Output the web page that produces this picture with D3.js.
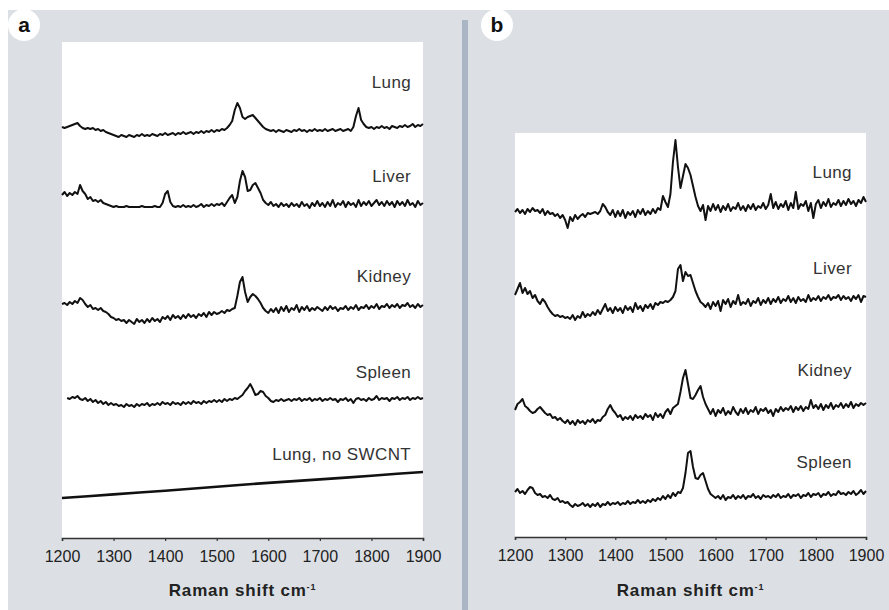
<!DOCTYPE html>
<html lang="en">
<head>
<meta charset="UTF-8">
<title>Raman spectra of SWCNT in tissues</title>
<script src="https://d3js.org/d3.v7.min.js"></script>
<style>
  body { margin: 0; background: #fff; }
  text { font-family: "Liberation Sans", Arial, Helvetica, sans-serif; }
</style>
</head>
<body>
<svg id="chart" width="889" height="610"></svg>
<script>
// x grid of the spectra (cm-1), one reading every 5 cm-1
const waveStart = 1200, waveStep = 5;
const tickValues = [1200, 1300, 1400, 1500, 1600, 1700, 1800, 1900];

// panel a : intensity above each trace's own baseline (a.u.)
const aLung = [
  3, 2, 3, 4, 5, 6, 7, 4, 2, 1,
  2, 1, 2, 0, 1, -1, 0, -2, -3, -4,
  -5, -6, -7, -5, -6, -7, -5, -6, -7, -5,
  -6, -4, -6, -5, -6, -4, -5, -6, -4, -5,
  -3, -5, -4, -3, -5, -3, -4, -2, -4, -3,
  -2, -4, -2, -3, -1, -3, -1, -2, 0, -2,
  0, -1, 1, 0, 2, 5, 9, 20, 27, 22,
  13, 11, 13, 14, 15, 12, 9, 6, 3, 1,
  0, -1, 0, -2, 0, -1, -2, 0, -1, -2,
  0, -1, 1, -1, 0, -2, 0, -1, 1, -1,
  0, -1, 1, -1, 0, 1, -1, 0, 1, -1,
  0, 1, -1, 3, 14, 22, 10, 6, 3, 2,
  3, 1, 3, 2, 4, 2, 3, 1, 4, 3,
  2, 4, 3, 5, 3, 4, 6, 3, 5, 4,
  6
];
const aLiver = [
  12, 15, 11, 14, 12, 15, 13, 22, 16, 13,
  8, 10, 6, 7, 5, 7, 4, 3, 2, 1,
  0, 1, 0, 0, 0, 1, 0, 0, 0, 0,
  0, 1, 0, 0, 0, 0, 1, 0, 0, 4,
  13, 16, 5, 1, 0, 1, 0, 2, 0, 1,
  0, 2, 0, 1, 3, 0, 2, 1, 3, 1,
  3, 2, 4, 1, 5, 9, 12, 4, 10, 26,
  36, 30, 16, 17, 22, 24, 19, 14, 7, 4,
  2, 5, 1, 3, 0, 4, 1, 3, 0, 4,
  1, 3, 0, 5, 1, 3, -1, 4, 1, 6,
  1, 4, 0, 5, 1, 7, 0, 4, 2, 6,
  0, 5, 2, 4, 0, 7, 1, 5, 2, 6,
  1, 4, 7, 2, 5, 1, 6, 2, 5, 0,
  6, 2, 5, 1, 7, 2, 4, 0, 6, 2,
  4
];
const aKidney = [
  6, 7, 5, 8, 6, 9, 7, 12, 10, 6,
  3, 5, 1, 2, 0, 2, -1, -2, -4, -7,
  -8, -10, -9, -11, -10, -13, -10, -12, -14, -9,
  -12, -10, -13, -9, -12, -8, -11, -9, -12, -7,
  -9, -6, -10, -5, -8, -6, -9, -5, -8, -4,
  -7, -5, -8, -4, -6, -3, -7, -2, -5, -2,
  -4, -3, -1, -3, 0, -1, 1, 2, 14, 28,
  33, 18, 8, 13, 16, 14, 11, 7, 2, -1,
  -3, 1, -2, 2, -3, 3, -1, 4, -2, 2,
  0, 5, -2, 3, 0, 4, -1, 2, 0, 3,
  1, -1, 3, 0, 4, 1, 3, -1, 2, 1,
  4, 0, 3, 1, 5, 0, 3, 2, 5, 1,
  4, 2, 6, 1, 4, 3, 6, 2, 5, 3,
  6, 2, 5, 4, 7, 3, 5, 2, 6, 3,
  5
];
const aSpleen = [
  null, null, 2, 1, 3, 2, 4, 1, 0, 2,
  -1, 1, -2, 0, -3, -1, -4, -2, -5, -3,
  -5, -4, -6, -5, -7, -4, -6, -5, -7, -4,
  -6, -4, -5, -3, -6, -4, -5, -3, -5, -2,
  -4, -3, -5, -2, -4, -3, -5, -2, -4, -2,
  -4, -1, -3, -2, -4, -1, -3, -1, -2, 0,
  -2, 0, -2, 1, -1, 1, 0, 2, 1, 3,
  5, 9, 12, 16, 11, 5, 6, 9, 8, 4,
  2, -1, -2, 0, -1, 1, -1, 0, 1, -1,
  1, 0, 2, -1, 1, 0, 2, -1, 1, 0,
  2, -1, 1, 0, 2, 0, 1, -2, 1, 0,
  2, -1, 1, -3, 1, 2, 0, 1, -1, 2,
  0, 1, 4, 0, 2, 1, 2, -1, 2, 1,
  3, 0, 2, 1, 3, 0, 2, 1, 3, 1,
  2
];
// control lung has only a sloping background, read every 50 cm-1
const noSwcntWaves = [1200, 1250, 1300, 1350, 1400, 1450, 1500, 1550, 1600, 1650, 1700, 1750, 1800, 1850, 1900];
const aLungNoSwcnt = [0, 1.8, 3.6, 5.5, 7.3, 9.2, 11.2, 13.3, 15.1, 16.9, 18.6, 20.4, 22.3, 24.2, 26];

// panel b
const bLung = [
  0, 3, -1, 2, -2, 3, 0, 4, 1, 2,
  -1, 3, -3, 1, -2, -1, -4, -2, -6, -3,
  -8, -16, -5, -9, -3, -7, -4, -2, -5, -1,
  -2, -1, 0, -2, 1, 8, 5, 0, -3, 2,
  -5, 1, -4, 2, -6, 0, -3, 1, -5, 2,
  -2, 3, -3, 1, -2, 3, -1, 4, 2, 16,
  10, 5, 18, 50, 72, 45, 24, 36, 48, 44,
  37, 26, 15, 6, 1, 7, -8, 6, 1, 8,
  2, 7, 0, 6, 2, 8, 1, 5, 3, 9,
  2, 6, 1, 7, 3, 8, 2, 6, 4, 9,
  3, 7, 18, 4, 10, 3, 8, 5, 11, 2,
  9, 4, 20, 3, 8, 6, 11, 1, 9, -6,
  8, 12, 4, 10, 6, 13, 5, 9, 7, 12,
  6, 11, 7, 13, 8, 11, 6, 12, 9, 15,
  10
];
const bLiver = [
  10, 16, 22, 12, 17, 11, 14, 7, 10, 4,
  1, 6, 3, -2, -6, -9, -11, -10, -12, -11,
  -13, -12, -14, -10, -15, -11, -13, -7, -12, -9,
  -11, -7, -10, -5, -9, -4, 1, -6, -3, -8,
  -2, -6, -3, -8, -1, -5, -2, -7, 2, -4,
  -1, -6, 0, -3, 1, -4, 2, 0, 3, 2,
  4, 3, 5, 8, 14, 36, 40, 24, 33, 29,
  30, 22, 14, 8, 3, 1, -2, 2, -4, 3,
  -1, 4, -6, 5, 1, 6, -2, 4, 1, 10,
  0, 3, 1, 6, -1, 4, 2, 7, 0, 5,
  2, 7, 1, 6, 3, 8, 2, 6, 4, 9,
  3, 7, 2, 8, 4, 6, 3, 10, 4, 7,
  5, 9, 4, 8, 6, 10, 5, 8, 7, 10,
  5, 9, 6, 8, 4, 9, 6, 10, 3, 9,
  8
];
const bKidney = [
  2, 8, 10, 13, 6, 4, 1, -1, 0, 3,
  5, 2, -1, -3, -2, -6, -5, -8, -6, -9,
  -11, -8, -12, -9, -13, -8, -11, -9, -12, -8,
  -10, -7, -11, -8, -9, -5, -3, 3, 7, 2,
  -1, -5, -3, -8, -5, -7, -4, -8, -3, -6,
  -4, -7, -2, -5, -3, -8, -1, -5, -2, -6,
  0, 3, -2, 4, 6, 8, 20, 34, 42, 28,
  14, 13, 17, 22, 26, 15, 8, 3, -2, 3,
  -4, 2, -1, 4, -3, 1, -2, 5, 0, -3,
  3, -1, 4, -2, 2, 0, 5, -2, 3, 1,
  4, -1, 2, -4, 3, 0, 5, 1, 4, 2,
  6, 0, 5, 2, 6, 1, 5, 3, 12, 4,
  7, 3, 8, 2, 7, 4, 9, 3, 7, 5,
  9, 4, 8, 5, 10, 4, 8, 6, 9, 7,
  9
];
const bSpleen = [
  5, 8, 4, 6, 3, 7, 10, 9, 4, 2,
  3, 0, 1, -1, 2, -2, -3, -1, -5, -4,
  -6, -5, -8, -10, -7, -9, -8, -6, -9, -7,
  -10, -7, -9, -6, -10, -7, -8, -5, -8, -6,
  -7, -5, -8, -6, -7, -4, -7, -5, -6, -3,
  -6, -4, -6, -3, -5, -2, -4, -1, -3, 1,
  -2, 2, -1, 4, 1, 5, 4, 9, 24, 44,
  46, 30, 19, 18, 22, 24, 16, 8, 3, 1,
  -1, 1, -2, 2, -3, 0, -1, 2, -2, 1,
  -1, 2, -2, 1, 0, 3, -1, 1, -2, 2,
  0, 1, -1, 2, 0, 3, -1, 1, 0, 3,
  -1, 2, 1, 3, -1, 2, 1, 4, 0, 3,
  2, 4, 0, 3, 2, 5, 1, 3, 2, 6,
  3, 4, 2, 5, 3, 6, 2, 4, 7, 3,
  6
];

const aNames = ["Lung", "Liver", "Kidney", "Spleen", "Lung, no SWCNT"];
const aOffsets = [408, 331, 228, 138, 40];
const bNames = ["Lung", "Liver", "Kidney", "Spleen"];
const bOffsets = [325, 232, 125, 40];

// layout
const W = 889, H = 610;
const svg = d3.select("#chart");
const bg = "#dce0e5";

svg.append("rect").attr("x", 8).attr("y", 10).attr("width", W - 8).attr("height", H - 10).attr("fill", bg);
svg.append("rect").attr("x", 462).attr("y", 20).attr("width", 6).attr("height", H - 20).attr("fill", "#aab6c4");

const panels = [
  {
    badge: "a", badgeX: 24, badgeY: 25,
    left: 62, right: 423, top: 42, bottom: 538, yMax: 496,
    names: aNames, offsets: aOffsets,
    series: [aLung, aLiver, aKidney, aSpleen, null],
    labelWave: 1877, labelLevel: [450, 356, 256, 160, 78]
  },
  {
    badge: "b", badgeX: 497, badgeY: 25,
    left: 515, right: 866, top: 133, bottom: 537, yMax: 404,
    names: bNames, offsets: bOffsets,
    series: [bLung, bLiver, bKidney, bSpleen],
    labelWave: 1872, labelLevel: [359, 263, 161, 69]
  }
];

panels.forEach(p => {
  const x = d3.scaleLinear().domain([1200, 1900]).range([p.left, p.right]);
  const y = d3.scaleLinear().domain([0, p.yMax]).range([p.bottom, p.top]);

  // white plotting area
  svg.append("rect")
    .attr("x", p.left).attr("y", p.top)
    .attr("width", p.right - p.left).attr("height", p.bottom - p.top)
    .attr("fill", "#fff");

  // panel badge
  svg.append("circle").attr("cx", p.badgeX).attr("cy", p.badgeY).attr("r", 16).attr("fill", "#fff");
  svg.append("text")
    .attr("x", p.badgeX).attr("y", p.badgeY + 7)
    .attr("text-anchor", "middle")
    .style("font-size", "21px").style("font-weight", "bold").attr("fill", "#111")
    .text(p.badge);

  const line = d3.line()
    .defined(d => d[1] != null)
    .x(d => x(d[0]))
    .y(d => y(d[1]));

  p.series.forEach((s, i) => {
    let pts;
    if (s === null) {
      pts = noSwcntWaves.map((w, j) => [w, p.offsets[i] + aLungNoSwcnt[j]]);
    } else {
      pts = s.map((v, j) => [waveStart + j * waveStep, v == null ? null : p.offsets[i] + v]);
    }
    svg.append("path")
      .datum(pts)
      .attr("fill", "none")
      .attr("stroke", "#111")
      .attr("stroke-width", s === null ? 2.6 : 2)
      .attr("stroke-linejoin", "round")
      .attr("d", line);

    svg.append("text")
      .attr("x", x(p.labelWave)).attr("y", y(p.labelLevel[i]))
      .attr("text-anchor", "end")
      .style("font-size", "17px").style("letter-spacing", "0.4px").attr("fill", "#333")
      .text(p.names[i]);
  });

  // x axis
  const ax = svg.append("g")
    .attr("transform", `translate(0,${p.bottom})`)
    .call(d3.axisBottom(x).tickValues(tickValues).tickSize(3).tickPadding(10).tickFormat(d3.format("d")));
  ax.select(".domain").attr("stroke", "#333").attr("stroke-width", 1.5);
  ax.selectAll(".tick line").attr("stroke", "#333").attr("stroke-width", 1.2);
  ax.selectAll(".tick text")
    .style("font-size", "16px").attr("fill", "#222")
    .style("font-family", "'Liberation Sans', Arial, sans-serif");

  const lab = svg.append("text")
    .attr("x", (p.left + p.right) / 2).attr("y", 596)
    .attr("text-anchor", "middle")
    .style("font-size", "17px").style("font-weight", "bold")
    .style("letter-spacing", "0.8px").attr("fill", "#222");
  lab.append("tspan").text("Raman shift cm");
  lab.append("tspan").attr("dy", -6).style("font-size", "9px").text("-1");
});
</script>
</body>
</html>
